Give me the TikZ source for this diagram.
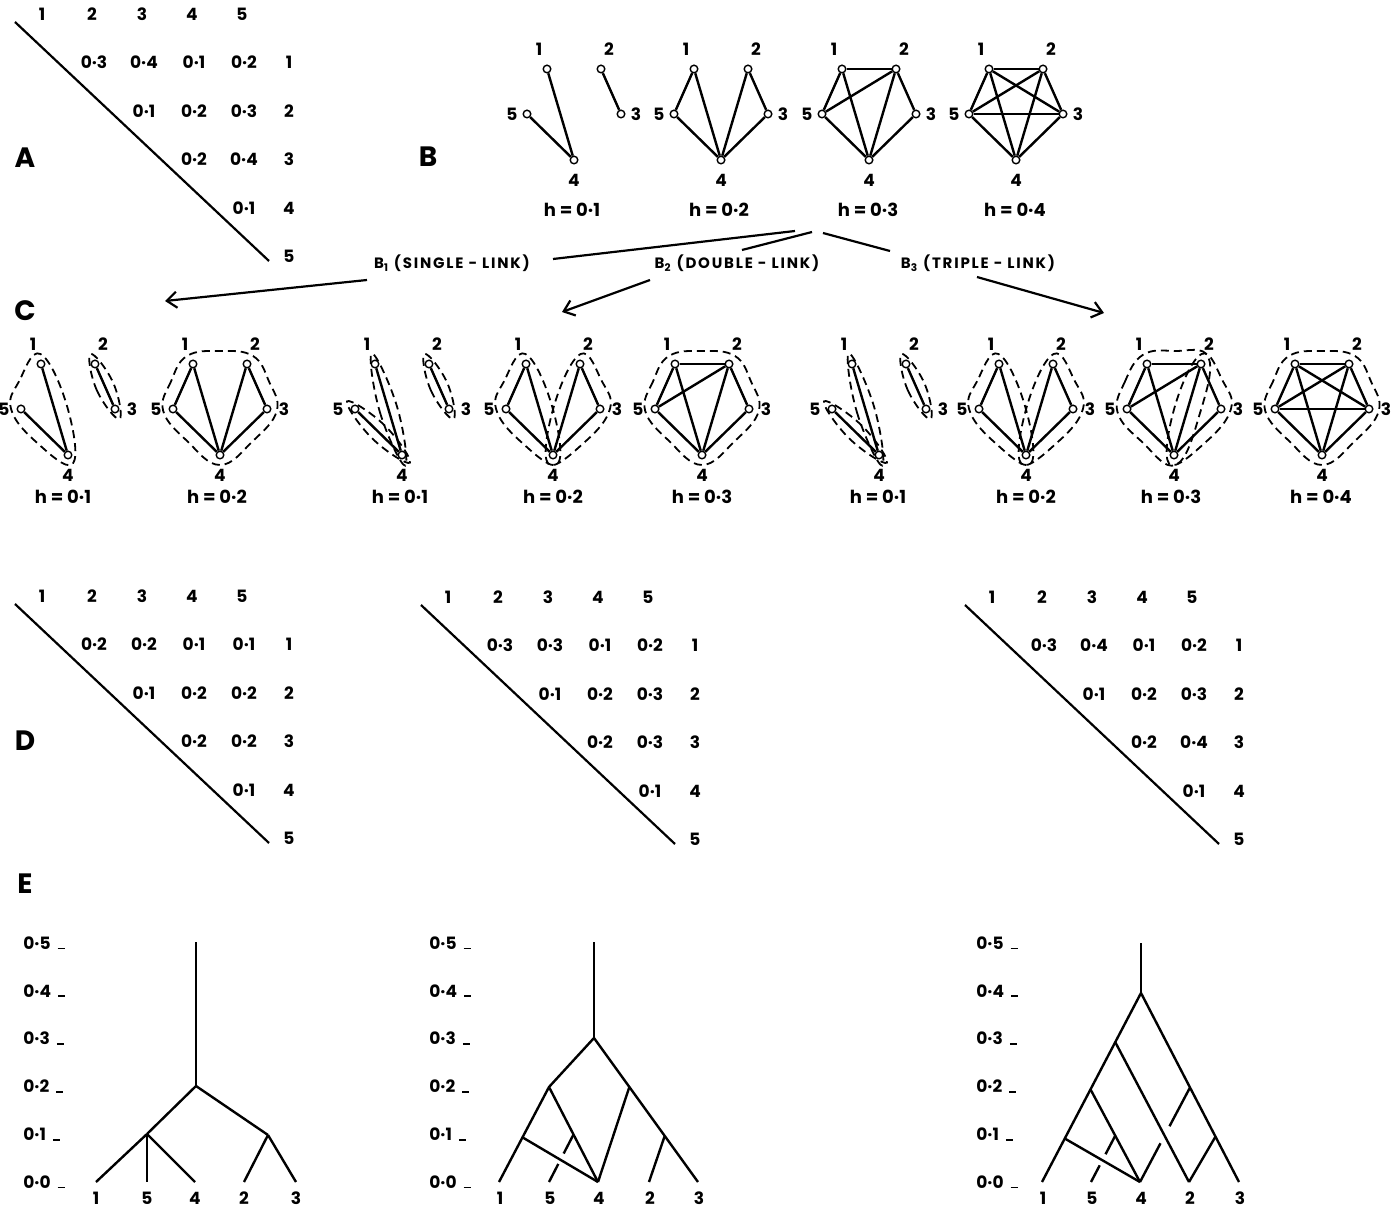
\documentclass[tikz,border=0pt]{standalone}
\usepackage{fontspec}
\setmainfont{Poppins}
\usetikzlibrary{calc, arrows.meta}

\tikzset{
  numlab/.style={font=\bfseries\fontsize{8.5}{10}\selectfont, inner sep=0pt},
  panel/.style={font=\bfseries\fontsize{14}{16}\selectfont, inner sep=0pt},
  linktext/.style={font=\bfseries\fontsize{7.5}{8}\selectfont\addfontfeature{LetterSpace=12}, inner sep=0pt},
  hlabel/.style={font=\bfseries\fontsize{9}{11}\selectfont, inner sep=0pt},
  vtx/.style={circle, draw, fill=white, line width=0.7pt, inner sep=0pt, minimum size=3.8pt},
  link/.style={line width=1.2pt},
  hull/.style={line width=0.9pt, dash pattern=on 4pt off 2.5pt},
  diagline/.style={line width=1.1pt},
  branch/.style={line width=1.2pt},
  linkline/.style={line width=1.1pt},
  linktip/.style={line width=1.1pt, -{Straight Barb[length=5pt, width=8pt, line width=1.1pt]}},
}

% edge sets of the threshold graphs
\def\edgesA{1/4,5/4,2/3}
\def\edgesB{1/4,5/4,2/3,1/5,2/4,3/4}
\def\edgesC{1/4,5/4,2/3,1/5,2/4,3/4,1/2,2/5}
\def\edgesD{1/4,5/4,2/3,1/5,2/4,3/4,1/2,2/5,1/3,5/3}

% triangular distance matrix: name, shift x, shift y, entries row/col/value
\newcommand\trimat[4]{%
  \begin{scope}[shift={(#2,#3)}]
    \foreach \col in {1,...,5} \node[numlab] (#1-h\col) at (50*\col-8,14) {\col};
    \foreach \row in {1,...,5} \node[numlab] (#1-r\row) at (289,14+48.5*\row) {\row};
    \foreach \row/\col/\val in {#4} \node[numlab] (#1-\row\col) at (50*\col-6,14+48.5*\row) {\val};
    \coordinate (#1-nw) at (15,22);
    \coordinate (#1-se) at (269,261);
    \draw[diagline] (#1-nw) -- (#1-se);
  \end{scope}}

% five-point graph: name, position of point 4, edge set, side-label gap
\newcommand\pgraph[5]{%
  \coordinate (#1) at (#2,#3);
  \node[vtx] (#1-1) at ($(#1)+(-27,-91)$) {};
  \node[vtx] (#1-2) at ($(#1)+(27,-91)$) {};
  \node[vtx] (#1-3) at ($(#1)+(47,-46)$) {};
  \node[vtx] (#1-4) at (#1) {};
  \node[vtx] (#1-5) at ($(#1)+(-47,-46)$) {};
  \foreach \a/\b in #4 \draw[link] (#1-\a) -- (#1-\b);
  \node[numlab] (#1-t1) at ($(#1-1)+(-8,-20)$) {1};
  \node[numlab] (#1-t2) at ($(#1-2)+(8,-20)$) {2};
  \node[numlab] (#1-t3) at ($(#1-3)+(#5,0)$) {3};
  \node[numlab] (#1-t4) at ($(#1-4)+(0,20)$) {4};
  \node[numlab] (#1-t5) at ($(#1-5)+(-#5,0)$) {5};}

% dashed cluster outlines
\def\hcap{5pt}\def\hm{4.5pt}\def\hmp{6.5pt}
\newcommand\hv[2]{($(#1)!-\hcap!(hc)$) ($(#1)!0.5!(#2)!\hmp!-90:(#2)$) }
\newcommand\hullplot[1]{\draw[hull] plot[smooth cycle, tension=0.7] coordinates {#1};}
\newcommand\hullpair[2]{%
  \draw[hull] plot[smooth cycle, tension=0.75] coordinates {($(#1)!-5.5pt!(#2)$)
    ($(#1)!0.5!(#2)!\hm!-90:(#2)$) ($(#2)!-5.5pt!(#1)$) ($(#1)!0.5!(#2)!\hm!90:(#2)$)};}
\newcommand\hulltri[3]{%
  \coordinate (hc) at ($0.333*(#1)+0.333*(#2)+0.334*(#3)$);
  \edef\hullpts{\hv{#1}{#2}\hv{#2}{#3}\hv{#3}{#1}}%
  \expandafter\hullplot\expandafter{\hullpts}}
\newcommand\hullquad[4]{%
  \coordinate (hc) at ($0.25*(#1)+0.25*(#2)+0.25*(#3)+0.25*(#4)$);
  \edef\hullpts{\hv{#1}{#2}\hv{#2}{#3}\hv{#3}{#4}\hv{#4}{#1}}%
  \expandafter\hullplot\expandafter{\hullpts}}
\newcommand\hullpent[5]{%
  \coordinate (hc) at ($0.2*(#1)+0.2*(#2)+0.2*(#3)+0.2*(#4)+0.2*(#5)$);
  \edef\hullpts{\hv{#1}{#2}\hv{#2}{#3}\hv{#3}{#4}\hv{#4}{#5}\hv{#5}{#1}}%
  \expandafter\hullplot\expandafter{\hullpts}}

\begin{document}
\begin{tikzpicture}[x=0.5pt, y=-0.5pt]
  \useasboundingbox (0,0) rectangle (1394,1208);

  % === Panel letters ===
  \node[panel] (labA) at (25,158) {A};
  \node[panel] (labB) at (428,157) {B};
  \node[panel] (labC) at (25,311) {C};
  \node[panel] (labD) at (25,741) {D};
  \node[panel] (labE) at (25,884) {E};

  % === A: distance matrix ===
  \trimat{mA}{0}{0}{1/2/0·3,1/3/0·4,1/4/0·1,1/5/0·2,2/3/0·1,2/4/0·2,2/5/0·3,3/4/0·2,3/5/0·4,4/5/0·1}

  % === B: threshold graphs ===
  \pgraph{gB1}{574}{160}{\edgesA}{15}
  \pgraph{gB2}{721}{160}{\edgesB}{15}
  \pgraph{gB3}{869}{160}{\edgesC}{15}
  \pgraph{gB4}{1016}{160}{\edgesD}{15}
  \node[hlabel] (gB1-h) at (572,210) {h = 0·1};
  \node[hlabel] (gB2-h) at (719,210) {h = 0·2};
  \node[hlabel] (gB3-h) at (868,210) {h = 0·3};
  \node[hlabel] (gB4-h) at (1015,210) {h = 0·4};

  % === B -> C: the three methods ===
  \node[linktext] (b1lab) at (452,263) {B\textsubscript{1} (SINGLE - LINK)};
  \node[linktext] (b2lab) at (737,263) {B\textsubscript{2} (DOUBLE - LINK)};
  \node[linktext] (b3lab) at (978,263) {B\textsubscript{3} (TRIPLE - LINK)};
  \coordinate (b1src) at (795,231);  \coordinate (b1in) at (553,259);
  \coordinate (b1out) at (367,280);  \coordinate (b1tip) at (165,301);
  \coordinate (b2src) at (812,232);  \coordinate (b2in) at (742,250);
  \coordinate (b2out) at (650,280);  \coordinate (b2tip) at (562,312);
  \coordinate (b3src) at (823,233);  \coordinate (b3in) at (890,251);
  \coordinate (b3out) at (977,277);  \coordinate (b3tip) at (1104,313);
  \draw[linkline] (b1src) -- (b1in);
  \draw[linktip] (b1out) -- (b1tip);
  \draw[linkline] (b2src) -- (b2in);
  \draw[linktip] (b2out) -- (b2tip);
  \draw[linkline] (b3src) -- (b3in);
  \draw[linktip] (b3out) -- (b3tip);

  % === C: clusters, single-link ===
  \pgraph{gC1}{68}{455}{\edgesA}{17}
  \pgraph{gC2}{220}{455}{\edgesB}{17}
  \hulltri{gC1-1}{gC1-5}{gC1-4}
  \hullpair{gC1-2}{gC1-3}
  \hullpent{gC2-1}{gC2-5}{gC2-4}{gC2-3}{gC2-2}
  \node[hlabel] (gC1-h) at (63,497) {h = 0·1};
  \node[hlabel] (gC2-h) at (217,497) {h = 0·2};

  % === C: clusters, double-link ===
  \pgraph{gC3}{402}{455}{\edgesA}{17}
  \pgraph{gC4}{553}{455}{\edgesB}{17}
  \pgraph{gC5}{702}{455}{\edgesC}{17}
  \hullpair{gC3-1}{gC3-4}
  \hullpair{gC3-5}{gC3-4}
  \hullpair{gC3-2}{gC3-3}
  \hulltri{gC4-1}{gC4-5}{gC4-4}
  \hulltri{gC4-2}{gC4-4}{gC4-3}
  \hullpent{gC5-1}{gC5-5}{gC5-4}{gC5-3}{gC5-2}
  \node[hlabel] (gC3-h) at (400,497) {h = 0·1};
  \node[hlabel] (gC4-h) at (553,497) {h = 0·2};
  \node[hlabel] (gC5-h) at (702,497) {h = 0·3};

  % === C: clusters, triple-link ===
  \pgraph{gC6}{879}{455}{\edgesA}{17}
  \pgraph{gC7}{1026}{455}{\edgesB}{17}
  \pgraph{gC8}{1174}{455}{\edgesC}{17}
  \pgraph{gC9}{1322}{455}{\edgesD}{17}
  \hullpair{gC6-1}{gC6-4}
  \hullpair{gC6-5}{gC6-4}
  \hullpair{gC6-2}{gC6-3}
  \hulltri{gC7-1}{gC7-5}{gC7-4}
  \hulltri{gC7-2}{gC7-4}{gC7-3}
  \hullquad{gC8-1}{gC8-5}{gC8-4}{gC8-2}
  \hulltri{gC8-2}{gC8-4}{gC8-3}
  \hullpent{gC9-1}{gC9-5}{gC9-4}{gC9-3}{gC9-2}
  \node[hlabel] (gC6-h) at (878,497) {h = 0·1};
  \node[hlabel] (gC7-h) at (1026,497) {h = 0·2};
  \node[hlabel] (gC8-h) at (1171,497) {h = 0·3};
  \node[hlabel] (gC9-h) at (1321,497) {h = 0·4};

  % === D: ultrametric matrices ===
  \trimat{mD1}{0}{582}{1/2/0·2,1/3/0·2,1/4/0·1,1/5/0·1,2/3/0·1,2/4/0·2,2/5/0·2,3/4/0·2,3/5/0·2,4/5/0·1}
  \trimat{mD2}{406}{583}{1/2/0·3,1/3/0·3,1/4/0·1,1/5/0·2,2/3/0·1,2/4/0·2,2/5/0·3,3/4/0·2,3/5/0·3,4/5/0·1}
  \trimat{mD3}{950}{583}{1/2/0·3,1/3/0·4,1/4/0·1,1/5/0·2,2/3/0·1,2/4/0·2,2/5/0·3,3/4/0·2,3/5/0·4,4/5/0·1}

  % === E: single-link tree ===
  \foreach \v in {0,...,5}
    \node[numlab, anchor=west] (eS-ax\v) at (23,1182-47.8*\v) {0·\v\hspace{3.5pt}\rule{3.5pt}{0.9pt}};
  \foreach \n/\x in {1/96,5/147,4/195,2/244,3/296} {
    \coordinate (eS-\n) at (\x,1182);
    \node[numlab] (eS-l\n) at (\x,1198) {\n};
  }
  \coordinate (eS-top) at (196,942);
  \coordinate (eS-j2) at (196,1086);
  \coordinate (eS-ja) at (147,1134);
  \coordinate (eS-jb) at (268,1135);
  \draw[branch] (eS-top) -- (eS-j2);
  \draw[branch] (eS-j2) -- (eS-ja);
  \draw[branch] (eS-j2) -- (eS-jb);
  \foreach \n in {1,5,4} \draw[branch] (eS-ja) -- (eS-\n);
  \foreach \n in {2,3} \draw[branch] (eS-jb) -- (eS-\n);

  % === E: double-link tree ===
  \foreach \v in {0,...,5}
    \node[numlab, anchor=west] (eD-ax\v) at (429,1182-47.8*\v) {0·\v\hspace{3.5pt}\rule{3.5pt}{0.9pt}};
  \foreach \n/\x in {1/499,5/549,4/598,2/649,3/698} {
    \coordinate (eD-\n) at (\x,1182);
    \node[numlab] (eD-l\n) at (\x+1,1198) {\n};
  }
  \coordinate (eD-top) at (594,942);
  \coordinate (eD-j3) at (594,1038);
  \coordinate (eD-jL) at (549,1087);
  \coordinate (eD-jLL) at ($(eD-jL)!0.53!(eD-1)$);
  \coordinate (eD-jLm) at ($(eD-jL)!0.5!(eD-4)$);
  \coordinate (eD-jR) at ($(eD-j3)!0.34!(eD-3)$);
  \coordinate (eD-jRR) at ($(eD-j3)!0.68!(eD-3)$);
  \draw[branch] (eD-top) -- (eD-j3);
  \draw[branch] (eD-j3) -- (eD-jL) -- (eD-1);
  \draw[branch] (eD-j3) -- (eD-3);
  \draw[branch] (eD-jL) -- (eD-4);
  \draw[branch] (eD-jLL) -- (eD-4);
  \draw[branch] (eD-jR) -- (eD-4);
  \draw[branch] (eD-jRR) -- (eD-2);
  \draw[branch] (eD-jLm) -- ($(eD-jLm)!0.40!(eD-5)$);
  \draw[branch] ($(eD-jLm)!0.62!(eD-5)$) -- (eD-5);

  % === E: triple-link tree ===
  \foreach \v in {0,...,5}
    \node[numlab, anchor=west] (eT-ax\v) at (976,1182-47.8*\v) {0·\v\hspace{3.5pt}\rule{3.5pt}{0.9pt}};
  \foreach \n/\x in {1/1042,5/1091,4/1140,2/1189,3/1239} {
    \coordinate (eT-\n) at (\x,1182);
    \node[numlab] (eT-l\n) at (\x+1,1198) {\n};
  }
  \coordinate (eT-top) at (1141,943);
  \coordinate (eT-j4) at (1141,993);
  \coordinate (eT-j3) at ($(eT-j4)!0.26!(eT-1)$);
  \coordinate (eT-j2L) at ($(eT-j4)!0.51!(eT-1)$);
  \coordinate (eT-j1L) at ($(eT-j4)!0.77!(eT-1)$);
  \coordinate (eT-j2R) at ($(eT-j4)!0.5!(eT-3)$);
  \coordinate (eT-j1R) at ($(eT-j4)!0.76!(eT-3)$);
  \coordinate (eT-j1m) at ($(eT-j2L)!0.5!(eT-4)$);
  \draw[branch] (eT-top) -- (eT-j4);
  \draw[branch] (eT-j4) -- (eT-1);
  \draw[branch] (eT-j4) -- (eT-3);
  \draw[branch] (eT-j3) -- (eT-2);
  \draw[branch] (eT-j2L) -- (eT-4);
  \draw[branch] (eT-j1L) -- (eT-4);
  \draw[branch] (eT-j1R) -- (eT-2);
  \draw[branch] (eT-j2R) -- ($(eT-j2R)!0.41!(eT-4)$);
  \draw[branch] ($(eT-j2R)!0.59!(eT-4)$) -- (eT-4);
  \draw[branch] (eT-j1m) -- ($(eT-j1m)!0.40!(eT-5)$);
  \draw[branch] ($(eT-j1m)!0.64!(eT-5)$) -- (eT-5);

\end{tikzpicture}
\end{document}
